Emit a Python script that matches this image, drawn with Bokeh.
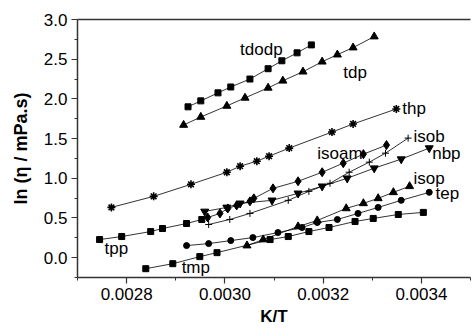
from bokeh.plotting import figure
from bokeh.models import (FixedTicker, NumeralTickFormatter, LinearAxis, Label, Range1d)
from bokeh.embed import file_html
from bokeh.resources import INLINE

# ---------------- data ----------------
tdodp_x = [0.002925, 0.002951, 0.002986, 0.003012, 0.003051, 0.003088, 0.003116, 0.003147, 0.003176]
tdodp_y = [1.90, 1.975, 2.076, 2.15, 2.25, 2.38, 2.48, 2.58, 2.68]

tdp_x = [0.002916, 0.002951, 0.003004, 0.003041, 0.003088, 0.003118, 0.003159, 0.003198, 0.003229, 0.003261, 0.003304]
tdp_y = [1.671, 1.772, 1.911, 2.013, 2.139, 2.228, 2.342, 2.468, 2.557, 2.646, 2.785]

thp_x = [0.002769, 0.002855, 0.002931, 0.003004, 0.003031, 0.003065, 0.003090, 0.003131, 0.003218, 0.003261, 0.003349]
thp_y = [0.633, 0.772, 0.924, 1.076, 1.152, 1.215, 1.278, 1.380, 1.582, 1.684, 1.873]

tpp_x = [0.002745, 0.002790, 0.002849, 0.002873, 0.002922, 0.002953]
tpp_y = [0.228, 0.266, 0.329, 0.367, 0.430, 0.481]

isoam_x = [0.002965, 0.002990, 0.003006, 0.003024, 0.003051, 0.003059, 0.003098, 0.003149, 0.003198, 0.003241, 0.003282, 0.003329]
isoam_y = [0.506, 0.557, 0.620, 0.658, 0.709, 0.747, 0.873, 0.962, 1.076, 1.190, 1.304, 1.418]

nbp_x = [0.002959, 0.003004, 0.003031, 0.003096, 0.003149, 0.003198, 0.003249, 0.003304, 0.003359, 0.003416]
nbp_y = [0.582, 0.633, 0.684, 0.722, 0.810, 0.899, 1.000, 1.127, 1.241, 1.380]

isob_x = [0.002967, 0.003010, 0.003051, 0.003129, 0.003171, 0.003214, 0.003253, 0.003294, 0.003327, 0.003373]
isob_y = [0.418, 0.481, 0.557, 0.722, 0.835, 0.937, 1.076, 1.203, 1.316, 1.506]

isop_x = [0.003045, 0.003078, 0.003149, 0.003188, 0.003247, 0.003282, 0.003312, 0.003343, 0.003376]
isop_y = [0.152, 0.228, 0.392, 0.468, 0.620, 0.684, 0.747, 0.823, 0.899]

tep_x = [0.002922, 0.002967, 0.003012, 0.003057, 0.003108, 0.003157, 0.003188, 0.003229, 0.003271, 0.003312, 0.003359, 0.003416]
tep_y = [0.152, 0.177, 0.215, 0.253, 0.316, 0.380, 0.443, 0.481, 0.557, 0.633, 0.722, 0.823]

tmp_x = [0.002839, 0.002894, 0.002949, 0.002984, 0.003092, 0.003129, 0.003171, 0.003212, 0.003265, 0.003302, 0.003353, 0.003404]
tmp_y = [-0.139, -0.076, 0.013, 0.063, 0.228, 0.266, 0.329, 0.380, 0.456, 0.494, 0.544, 0.570]

x_major_ticks = [0.0028, 0.0030, 0.0032, 0.0034]
x_minor_ticks = [0.0027, 0.0029, 0.0031, 0.0033, 0.0035]
y_major_ticks = [0.0, 0.5, 1.0, 1.5, 2.0, 2.5, 3.0]
y_minor_ticks = [-0.25, 0.25, 0.75, 1.25, 1.75, 2.25, 2.75]

series_labels = ["tdodp", "tdp", "thp", "isob", "nbp", "isoam", "isop", "tep", "tpp", "tmp"]
label_x = [0.003031, 0.003241, 0.003361, 0.003384, 0.003422, 0.003188, 0.003384, 0.003429, 0.002755, 0.002912]
label_y = [2.62, 2.33, 1.873, 1.52, 1.316, 1.316, 1.00, 0.81, 0.114, -0.127]

x_title = "K/T"
y_title = "ln (η / mPa.s)"

# ---------------- figure ----------------
FONT = "Liberation Sans"
p = figure(width=472, height=329, output_backend="svg", toolbar_location=None,
           x_range=Range1d(0.0027, 0.0035), y_range=Range1d(-0.25, 3.0),
           min_border_left=77, min_border_right=2, min_border_top=19, min_border_bottom=52)
p.grid.visible = False
p.outline_line_color = None
p.background_fill_color = "white"
p.border_fill_color = "white"

for ax in (p.xaxis[0], p.yaxis[0]):
    ax.axis_line_width = 1.5
    ax.axis_line_color = "#333333"
    ax.major_tick_line_color = "#333333"
    ax.minor_tick_line_color = "#333333"
    ax.major_tick_line_width = 1.2
    ax.major_tick_out = 6
    ax.major_tick_in = 0
    ax.minor_tick_out = 3
    ax.minor_tick_in = 0
    ax.major_label_text_font = FONT
    ax.major_label_text_font_size = "17px"
    ax.major_label_text_color = "black"
    ax.major_label_standoff = 4
    ax.axis_label_text_font = FONT
    ax.axis_label_text_font_style = "bold"
    ax.axis_label_text_color = "black"

p.xaxis.axis_label = x_title
p.xaxis.axis_label_text_font_size = "17px"
p.xaxis.axis_label_standoff = 4
p.yaxis.axis_label = y_title
p.yaxis.axis_label_text_font_size = "18px"
p.yaxis.axis_label_standoff = 10

p.xaxis.ticker = FixedTicker(ticks=x_major_ticks, minor_ticks=x_minor_ticks)
p.yaxis.ticker = FixedTicker(ticks=y_major_ticks, minor_ticks=y_minor_ticks)
p.xaxis.formatter = NumeralTickFormatter(format="0.0000")
p.yaxis.formatter = NumeralTickFormatter(format="0.0")

top = LinearAxis(ticker=FixedTicker(ticks=[]), major_label_text_font_size="0px",
                 axis_line_width=1.5, axis_line_color="#333333",
                 major_tick_line_color=None, minor_tick_line_color=None)
p.add_layout(top, "above")

LW = 0.8
def series(xs, ys, marker, size, **kw):
    p.line(xs, ys, line_color="black", line_width=LW)
    p.scatter(xs, ys, marker=marker, size=size, fill_color="black", line_color="black", **kw)

series(tdodp_x, tdodp_y, "square", 6)
series(tdp_x, tdp_y, "triangle", 8)
series(thp_x, thp_y, "asterisk", 8, line_width=1.6)
series(tpp_x, tpp_y, "square", 6)
series(isoam_x, isoam_y, "diamond", 9)
series(nbp_x, nbp_y, "inverted_triangle", 8)
series(isob_x, isob_y, "cross", 7, line_width=1)
series(isop_x, isop_y, "triangle", 8)
series(tep_x, tep_y, "circle", 6)
series(tmp_x, tmp_y, "square", 6)

for t, lx, ly in zip(series_labels, label_x, label_y):
    p.add_layout(Label(x=lx, y=ly, text=t, text_font=FONT, text_font_size="17px",
                       text_color="black", text_align="left", text_baseline="middle"))

open("out.html", "w").write(file_html(p, INLINE))
